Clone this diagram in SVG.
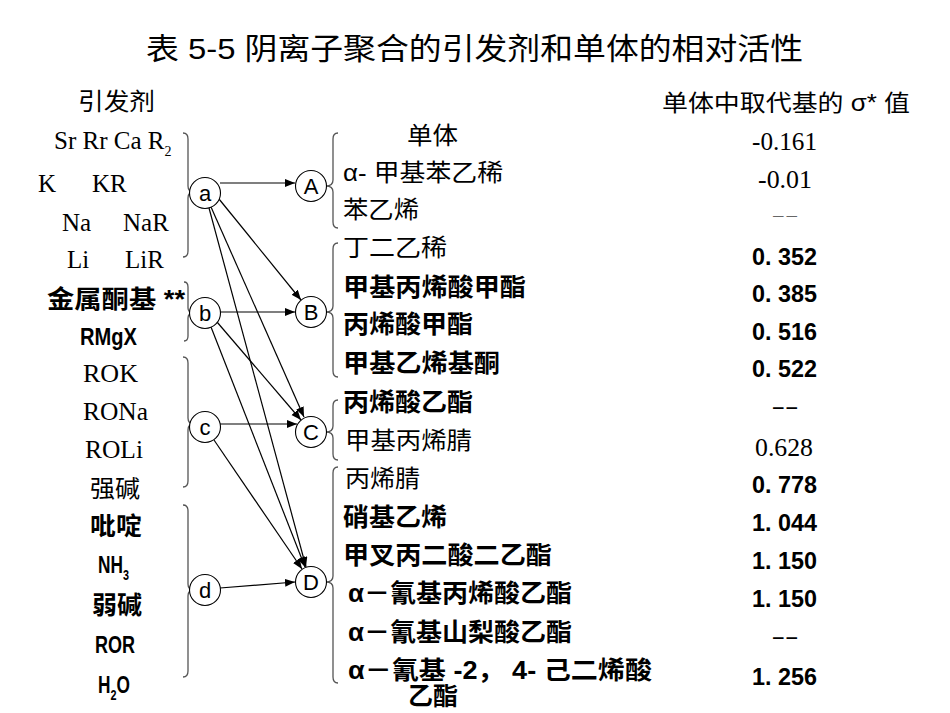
<svg xmlns="http://www.w3.org/2000/svg" width="950" height="713" viewBox="0 0 950 713">
<style>
text{fill:#000}
.serif{font-family:"Liberation Serif","Times New Roman",serif;font-size:25px}
.cjk{font-family:"Liberation Sans","Noto Sans CJK SC",sans-serif;font-size:24px}
.cjkb{font-family:"Liberation Sans","Noto Sans CJK SC",sans-serif;font-size:25px;font-weight:bold}
.nar{font-family:"Liberation Sans","Noto Sans CJK SC",sans-serif;font-size:24px;font-weight:bold}
.num{font-family:"Liberation Sans",sans-serif;font-size:24px;font-weight:bold}
.lbl{font-family:"Liberation Sans",sans-serif;font-size:22px;text-anchor:middle}
.circ{fill:#fff;stroke:#000;stroke-width:1.1}
.brace{fill:none;stroke:#555;stroke-width:1.3}
.arr{stroke:#000;stroke-width:1.2;fill:none;marker-end:url(#ah)}
</style>
<defs>
<marker id="ah" markerUnits="userSpaceOnUse" markerWidth="11" markerHeight="9" refX="10" refY="4" orient="auto">
<path d="M0,0 L10,4 L0,8 z" fill="#000"/>
</marker>
</defs>
<rect width="950" height="713" fill="#fff"/>

<g id="title">
<text class="cjk" x="146" y="59" style="font-size:30px" textLength="657" lengthAdjust="spacingAndGlyphs">表 5-5  阴离子聚合的引发剂和单体的相对活性</text>
</g>
<g id="header-initiator"><text class="cjk" x="78" y="110" textLength="77" lengthAdjust="spacingAndGlyphs">引发剂</text></g>
<g id="header-sigma"><text class="cjk" x="662" y="111" style="font-size:23px" textLength="248" lengthAdjust="spacingAndGlyphs">单体中取代基的 σ* 值</text></g>

<g id="initiators-a">
<text class="serif" x="54" y="149">Sr Rr Ca R<tspan style="font-size:14px" dy="7">2</tspan></text>
<text class="serif" x="38" y="192">K</text>
<text class="serif" x="92" y="192">KR</text>
<text class="serif" x="62" y="231">Na</text>
<text class="serif" x="123" y="231">NaR</text>
<text class="serif" x="67" y="268">Li</text>
<text class="serif" x="125" y="268">LiR</text>
</g>
<g id="initiators-b">
<text class="cjkb" x="47" y="308" textLength="138" lengthAdjust="spacingAndGlyphs">金属酮基 **</text>
<text class="nar" x="80" y="345" textLength="57" lengthAdjust="spacingAndGlyphs">RMgX</text>
</g>
<g id="initiators-c">
<text class="serif" x="83" y="382" textLength="55" lengthAdjust="spacingAndGlyphs">ROK</text>
<text class="serif" x="83" y="420" textLength="65" lengthAdjust="spacingAndGlyphs">RONa</text>
<text class="serif" x="85" y="458" textLength="58" lengthAdjust="spacingAndGlyphs">ROLi</text>
<text class="cjk" x="90" y="497" textLength="50" lengthAdjust="spacingAndGlyphs">强碱</text>
</g>
<g id="initiators-d">
<text class="cjkb" x="90" y="535" textLength="52" lengthAdjust="spacingAndGlyphs">吡啶</text>
<text class="nar" transform="translate(98,573) scale(0.72,1)">NH<tspan style="font-size:15px" dy="7">3</tspan></text>
<text class="cjkb" x="92" y="614" textLength="50" lengthAdjust="spacingAndGlyphs">弱碱</text>
<text class="nar" x="95" y="653" textLength="40" lengthAdjust="spacingAndGlyphs">ROR</text>
<text class="nar" transform="translate(98,693) scale(0.72,1)">H<tspan style="font-size:15px" dy="7">2</tspan><tspan dy="-7">O</tspan></text>
</g>

<g id="braces-left">
<path class="brace" d="M183,133 Q188,133 188,139 L188,186 Q188,192 194,192 Q188,192 188,198 L188,251 Q188,257 183,257"/>
<path class="brace" d="M184,282 Q188,282 188,287 L188,308 Q188,313 194,313 Q188,313 188,318 L188,336 Q188,341 184,341"/>
<path class="brace" d="M183,357 Q188,357 188,363 L188,418 Q188,424 194,424 Q188,424 188,430 L188,481 Q188,487 183,487"/>
<path class="brace" d="M183,505 Q188,505 188,511 L188,584 Q188,590 194,590 Q188,590 188,596 L188,671 Q188,677 183,677"/>
</g>
<g id="braces-right">
<path class="brace" d="M338,133 Q333,133 333,139 L333,180 Q333,186 326,186 Q333,186 333,192 L333,222 Q333,228 338,228"/>
<path class="brace" d="M338,243 Q333,243 333,249 L333,306 Q333,312 326,312 Q333,312 333,318 L333,371 Q333,377 338,377"/>
<path class="brace" d="M338,400 Q333,400 333,406 L333,426 Q333,432 326,432 Q333,432 333,438 L333,454 Q333,460 338,460"/>
<path class="brace" d="M338,467 Q333,467 333,473 L333,576 Q333,582 326,582 Q333,582 333,588 L333,677 Q333,683 338,683"/>
</g>

<g id="connectors">
<line class="arr" x1="220" y1="183" x2="295" y2="183"/>
<line class="arr" x1="219" y1="199" x2="301" y2="300"/>
<line class="arr" x1="211" y1="207" x2="304" y2="417"/>
<line class="arr" x1="209" y1="208" x2="306" y2="567"/>
<line class="arr" x1="220" y1="312" x2="295" y2="312"/>
<line class="arr" x1="217" y1="322" x2="301" y2="420"/>
<line class="arr" x1="211" y1="327" x2="305" y2="567"/>
<line class="arr" x1="220" y1="424" x2="297" y2="424"/>
<line class="arr" x1="214" y1="440" x2="302" y2="569"/>
<line class="arr" x1="220" y1="588" x2="295" y2="582"/>
</g>

<g id="node-a"><circle class="circ" cx="205" cy="193" r="15.5"/><text class="lbl" x="205" y="201">a</text></g>
<g id="node-b"><circle class="circ" cx="205" cy="313" r="15.5"/><text class="lbl" x="205" y="321">b</text></g>
<g id="node-c"><circle class="circ" cx="205" cy="427" r="15.5"/><text class="lbl" x="205" y="435">c</text></g>
<g id="node-d"><circle class="circ" cx="205" cy="590" r="15.5"/><text class="lbl" x="205" y="598">d</text></g>
<g id="node-A"><circle class="circ" cx="311" cy="186" r="15.5"/><text class="lbl" x="311" y="194">A</text></g>
<g id="node-B"><circle class="circ" cx="311" cy="312" r="15.5"/><text class="lbl" x="311" y="320">B</text></g>
<g id="node-C"><circle class="circ" cx="311" cy="432" r="15.5"/><text class="lbl" x="311" y="440">C</text></g>
<g id="node-D"><circle class="circ" cx="311" cy="582" r="15.5"/><text class="lbl" x="311" y="590">D</text></g>

<g id="monomers-A">
<text class="cjk" x="407" y="144" textLength="51" lengthAdjust="spacingAndGlyphs">单体</text>
<text class="cjk" x="343" y="181" textLength="160" lengthAdjust="spacingAndGlyphs">α- 甲基苯乙稀</text>
<text class="cjk" x="343" y="218" textLength="76" lengthAdjust="spacingAndGlyphs">苯乙烯</text>
</g>
<g id="monomers-B">
<text class="cjk" x="343" y="256" textLength="104" lengthAdjust="spacingAndGlyphs">丁二乙稀</text>
<text class="cjkb" x="343" y="296" textLength="183" lengthAdjust="spacingAndGlyphs">甲基丙烯酸甲酯</text>
<text class="cjkb" x="343" y="333" textLength="130" lengthAdjust="spacingAndGlyphs">丙烯酸甲酯</text>
<text class="cjkb" x="343" y="372" textLength="157" lengthAdjust="spacingAndGlyphs">甲基乙烯基酮</text>
</g>
<g id="monomers-C">
<text class="cjkb" x="343" y="411" textLength="130" lengthAdjust="spacingAndGlyphs">丙烯酸乙酯</text>
<text class="cjk" x="345" y="449" textLength="127" lengthAdjust="spacingAndGlyphs">甲基丙烯腈</text>
</g>
<g id="monomers-D">
<text class="cjk" x="345" y="487" textLength="75" lengthAdjust="spacingAndGlyphs">丙烯腈</text>
<text class="cjkb" x="343" y="526" textLength="104" lengthAdjust="spacingAndGlyphs">硝基乙烯</text>
<text class="cjkb" x="343" y="564" textLength="209" lengthAdjust="spacingAndGlyphs">甲叉丙二酸二乙酯</text>
<text class="cjkb" x="348" y="602" textLength="224" lengthAdjust="spacingAndGlyphs">α－氰基丙烯酸乙酯</text>
<text class="cjkb" x="348" y="641" textLength="224" lengthAdjust="spacingAndGlyphs">α－氰基山梨酸乙酯</text>
<text class="cjkb" x="348" y="679" textLength="304" lengthAdjust="spacingAndGlyphs">α－氰基 -2， 4- 己二烯酸</text>
<text class="cjkb" x="408" y="705" textLength="50" lengthAdjust="spacingAndGlyphs">乙酯</text>
</g>

<g id="sigma-values">
<text class="serif" x="752" y="150" textLength="65" lengthAdjust="spacingAndGlyphs">-0.161</text>
<text class="serif" x="758" y="188" textLength="54" lengthAdjust="spacingAndGlyphs">-0.01</text>
<text x="773" y="220" style="font-family:'Liberation Sans',sans-serif;font-size:14px;fill:#666" textLength="24" lengthAdjust="spacingAndGlyphs">— —</text>
<text class="num" x="752" y="265" textLength="65" lengthAdjust="spacingAndGlyphs">0. 352</text>
<text class="num" x="752" y="302" textLength="65" lengthAdjust="spacingAndGlyphs">0. 385</text>
<text class="num" x="752" y="340" textLength="65" lengthAdjust="spacingAndGlyphs">0. 516</text>
<text class="num" x="752" y="377" textLength="65" lengthAdjust="spacingAndGlyphs">0. 522</text>
<text x="773" y="413" style="font-family:'Liberation Sans',sans-serif;font-size:16px;font-weight:bold" textLength="24" lengthAdjust="spacingAndGlyphs">— —</text>
<text class="serif" x="755" y="456" textLength="58" lengthAdjust="spacingAndGlyphs">0.628</text>
<text class="num" x="752" y="493" textLength="65" lengthAdjust="spacingAndGlyphs">0. 778</text>
<text class="num" x="752" y="531" textLength="65" lengthAdjust="spacingAndGlyphs">1. 044</text>
<text class="num" x="752" y="569" textLength="65" lengthAdjust="spacingAndGlyphs">1. 150</text>
<text class="num" x="752" y="607" textLength="65" lengthAdjust="spacingAndGlyphs">1. 150</text>
<text x="773" y="643" style="font-family:'Liberation Sans',sans-serif;font-size:16px;font-weight:bold" textLength="24" lengthAdjust="spacingAndGlyphs">— —</text>
<text class="num" x="752" y="685" textLength="65" lengthAdjust="spacingAndGlyphs">1. 256</text>
</g>
</svg>
